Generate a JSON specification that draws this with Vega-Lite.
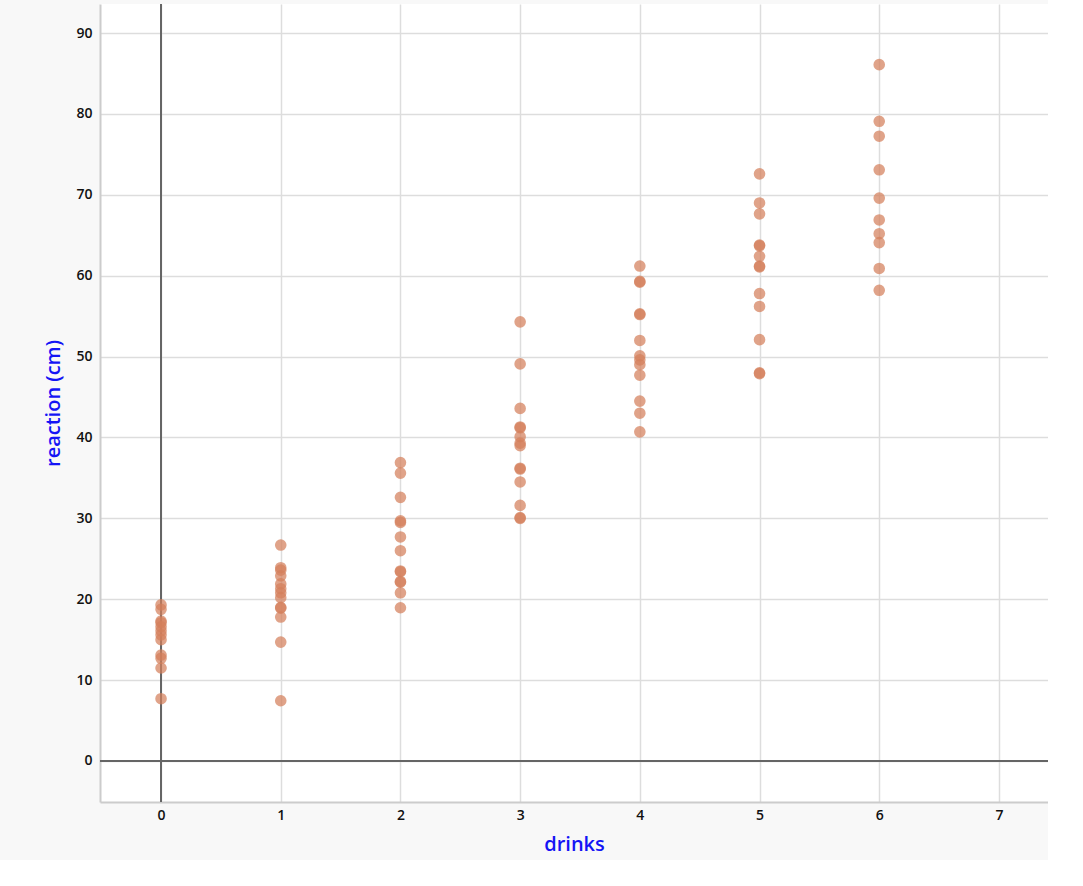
{
  "$schema": "https://vega.github.io/schema/vega-lite/v6.json",
  "autosize": {"type": "none"},
  "width": 948,
  "height": 798,
  "padding": {"left": 100, "top": 4, "right": 0, "bottom": 58},
  "background": "#f8f8f8",
  "view": {"fill": "white", "stroke": null},
  "config": {
    "axis": {
      "labelFont": "Open Sans",
      "labelFontWeight": 600,
      "labelFontSize": 14,
      "labelColor": "#111",
      "titleFont": "Open Sans",
      "titleFontWeight": 600,
      "titleFontSize": 20,
      "titleColor": "#1414f5",
      "grid": true,
      "gridColor": "#dddddd",
      "gridOpacity": 1,
      "gridWidth": 1.5,
      "domainColor": "#cccccc",
      "domainWidth": 2,
      "ticks": false
    }
  },
  "data": {
    "values": [
      {"drinks": 0, "reaction": 19.3}, {"drinks": 0, "reaction": 18.75}, {"drinks": 0, "reaction": 17.1}, {"drinks": 0, "reaction": 17.3},
      {"drinks": 0, "reaction": 16.6}, {"drinks": 0, "reaction": 16.1}, {"drinks": 0, "reaction": 15.6}, {"drinks": 0, "reaction": 15.0},
      {"drinks": 0, "reaction": 13.1}, {"drinks": 0, "reaction": 12.7}, {"drinks": 0, "reaction": 11.5}, {"drinks": 0, "reaction": 7.7},
      {"drinks": 1, "reaction": 26.7}, {"drinks": 1, "reaction": 23.9}, {"drinks": 1, "reaction": 23.6}, {"drinks": 1, "reaction": 22.9},
      {"drinks": 1, "reaction": 21.9}, {"drinks": 1, "reaction": 21.3}, {"drinks": 1, "reaction": 20.8}, {"drinks": 1, "reaction": 20.2},
      {"drinks": 1, "reaction": 19.0}, {"drinks": 1, "reaction": 18.9}, {"drinks": 1, "reaction": 17.8}, {"drinks": 1, "reaction": 14.7},
      {"drinks": 1, "reaction": 7.45},
      {"drinks": 2, "reaction": 36.9}, {"drinks": 2, "reaction": 35.6}, {"drinks": 2, "reaction": 32.6}, {"drinks": 2, "reaction": 29.5},
      {"drinks": 2, "reaction": 29.7}, {"drinks": 2, "reaction": 27.7}, {"drinks": 2, "reaction": 26.0}, {"drinks": 2, "reaction": 23.4},
      {"drinks": 2, "reaction": 23.5}, {"drinks": 2, "reaction": 22.1}, {"drinks": 2, "reaction": 22.2}, {"drinks": 2, "reaction": 20.8},
      {"drinks": 2, "reaction": 18.95},
      {"drinks": 3, "reaction": 54.3}, {"drinks": 3, "reaction": 49.1}, {"drinks": 3, "reaction": 43.6}, {"drinks": 3, "reaction": 41.2},
      {"drinks": 3, "reaction": 41.3}, {"drinks": 3, "reaction": 40.1}, {"drinks": 3, "reaction": 39.3}, {"drinks": 3, "reaction": 39.0},
      {"drinks": 3, "reaction": 36.1}, {"drinks": 3, "reaction": 36.2}, {"drinks": 3, "reaction": 34.5}, {"drinks": 3, "reaction": 31.6},
      {"drinks": 3, "reaction": 30.0}, {"drinks": 3, "reaction": 30.1},
      {"drinks": 4, "reaction": 61.2}, {"drinks": 4, "reaction": 59.2}, {"drinks": 4, "reaction": 59.3}, {"drinks": 4, "reaction": 55.2},
      {"drinks": 4, "reaction": 55.3}, {"drinks": 4, "reaction": 52.0}, {"drinks": 4, "reaction": 50.1}, {"drinks": 4, "reaction": 49.6},
      {"drinks": 4, "reaction": 49.0}, {"drinks": 4, "reaction": 47.7}, {"drinks": 4, "reaction": 44.5}, {"drinks": 4, "reaction": 43.0},
      {"drinks": 4, "reaction": 40.7},
      {"drinks": 5, "reaction": 72.6}, {"drinks": 5, "reaction": 69.0}, {"drinks": 5, "reaction": 67.65}, {"drinks": 5, "reaction": 63.7},
      {"drinks": 5, "reaction": 63.8}, {"drinks": 5, "reaction": 62.4}, {"drinks": 5, "reaction": 61.1}, {"drinks": 5, "reaction": 61.2},
      {"drinks": 5, "reaction": 57.8}, {"drinks": 5, "reaction": 56.2}, {"drinks": 5, "reaction": 52.1}, {"drinks": 5, "reaction": 47.9},
      {"drinks": 5, "reaction": 48.0},
      {"drinks": 6, "reaction": 86.1}, {"drinks": 6, "reaction": 79.1}, {"drinks": 6, "reaction": 77.25}, {"drinks": 6, "reaction": 73.1},
      {"drinks": 6, "reaction": 69.6}, {"drinks": 6, "reaction": 66.9}, {"drinks": 6, "reaction": 65.2}, {"drinks": 6, "reaction": 64.1},
      {"drinks": 6, "reaction": 60.9}, {"drinks": 6, "reaction": 58.2}
    ]
  },
  "layer": [
    {
      "mark": {"type": "rule", "color": "#666666", "strokeWidth": 1.5},
      "encoding": {"x": {"datum": 0, "type": "quantitative", "scale": {"domain": [-0.51, 7.41], "nice": false, "zero": false}}}
    },
    {
      "mark": {"type": "rule", "color": "#666666", "strokeWidth": 1.5},
      "encoding": {"y": {"datum": 0, "type": "quantitative", "scale": {"domain": [-5.07, 93.6], "nice": false, "zero": false}}}
    },
    {
      "mark": {"type": "circle", "size": 135, "color": "#d4805c", "opacity": 0.72, "stroke": null},
      "encoding": {
        "x": {
          "field": "drinks", "type": "quantitative",
          "scale": {"domain": [-0.51, 7.41], "nice": false, "zero": false},
          "axis": {"title": "drinks", "grid": true, "values": [0, 1, 2, 3, 4, 5, 6, 7], "format": "d", "labelPadding": 6, "titlePadding": 12}
        },
        "y": {
          "field": "reaction", "type": "quantitative",
          "scale": {"domain": [-5.07, 93.6], "nice": false, "zero": false},
          "axis": {"title": "reaction (cm)", "grid": true, "values": [0, 10, 20, 30, 40, 50, 60, 70, 80, 90], "format": "d", "labelPadding": 8, "titlePadding": 12}
        }
      }
    }
  ]
}
